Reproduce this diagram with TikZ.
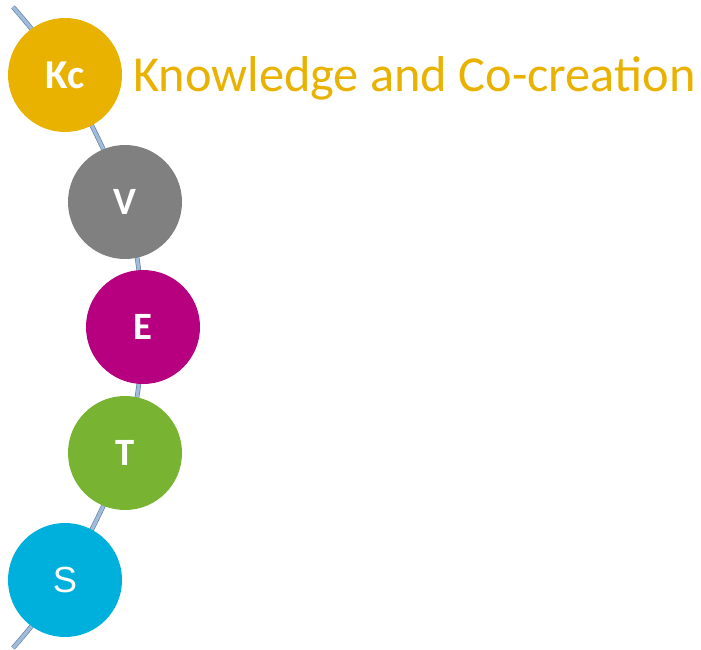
\documentclass[tikz,border=0pt]{standalone}
\usepackage{fontspec}
\newfontfamily\calibri{Carlito}
\newfontfamily\arial{Liberation Sans}
\usetikzlibrary{backgrounds}
\definecolor{kcgold}{RGB}{234,178,0}
\definecolor{vgrey}{RGB}{128,128,128}
\definecolor{emagenta}{RGB}{182,0,128}
\definecolor{tgreen}{RGB}{120,180,50}
\definecolor{scyan}{RGB}{0,176,220}
\definecolor{spinefill}{RGB}{160,188,218}
\definecolor{spineedge}{RGB}{100,130,165}
\begin{document}
\begin{tikzpicture}[x=0.03cm,y=-0.03cm,
	ball/.style={circle,minimum size=3.42cm,inner sep=0,text=white},
	letter/.style={font=\calibri\bfseries\fontsize{33}{33}\selectfont},
	spine/.style={draw=spineedge,line width=0.6pt,double=spinefill,double distance=2.8pt}]
\useasboundingbox (0,0) rectangle (701,650);
\node[ball,fill=kcgold,font=\calibri\bfseries\fontsize{35}{35}\selectfont] (kc) at (65,75) {Kc};
\node[ball,fill=vgrey,letter] (v) at (125,202) {V};
\node[ball,fill=emagenta,letter] (e) at (143,327) {E};
\node[ball,fill=tgreen,letter] (t) at (125,453) {T};
\node[ball,fill=scyan,font=\arial\fontsize{31}{31}\selectfont] (s) at (65,580) {S};
\node[anchor=base west,inner sep=0,text=kcgold,font=\calibri\fontsize{43}{43}\selectfont] (title) at (133,92) {Knowledge and Co-creation};
\coordinate (top) at (13,7);
\coordinate (bottom) at (13,648);
\begin{scope}[on background layer]
	\draw[spine] plot[smooth] coordinates {(top) (kc.center) (v.center) (e.center) (t.center) (s.center) (bottom)};
\end{scope}
\end{tikzpicture}
\end{document}
